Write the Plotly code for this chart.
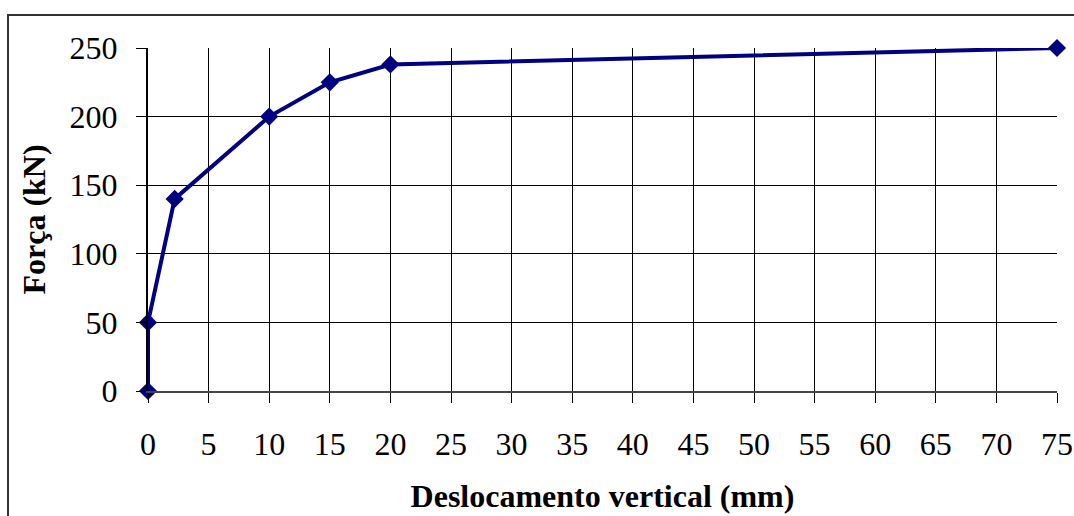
import plotly.graph_objects as go

deslocamento = [0, 0, 2.2, 10, 15, 20, 75]
forca = [0, 50, 140, 200, 225, 238, 250]

x_ticks = list(range(0, 80, 5))
y_ticks = [0, 50, 100, 150, 200, 250]

font_family = "Liberation Serif, Times New Roman, serif"

fig = go.Figure()
fig.add_trace(go.Scatter(
    x=deslocamento, y=forca,
    mode="lines+markers",
    line=dict(color="#000080", width=4),
    marker=dict(color="#000080", size=14, symbol="diamond"),
    showlegend=False,
    cliponaxis=False
))

fig.update_layout(
    width=1074, height=516,
    paper_bgcolor="white", plot_bgcolor="white",
    margin=dict(l=148, r=17, t=48, b=125),
    font=dict(family=font_family, size=32, color="black"),
    shapes=[dict(type="rect", xref="paper", yref="paper",
                 x0=-0.1540, x1=1.2, y0=-0.6, y1=1.0962,
                 line=dict(color="#333333", width=2), layer="below")],
)

fig.update_xaxes(
    range=[0, 75], tickvals=x_ticks, automargin=False,
    showgrid=True, gridcolor="black", gridwidth=1,
    showline=True, linecolor="#444444", linewidth=2,
    ticks="outside", ticklen=10, tickcolor="black", tickwidth=1,
    tickfont=dict(family=font_family, size=32),
    ticklabelstandoff=14,
    zeroline=False,
    title=dict(text="<b>Deslocamento vertical (mm)</b>",
               font=dict(family=font_family, size=32), standoff=23),
)
fig.update_yaxes(
    range=[0, 250], tickvals=y_ticks, automargin=False,
    showgrid=True, gridcolor="black", gridwidth=1,
    showline=True, linecolor="black", linewidth=2,
    ticks="outside", ticklen=10, tickcolor="black", tickwidth=1,
    tickfont=dict(family=font_family, size=32),
    ticklabelstandoff=12,
    zeroline=False,
    title=dict(text="<b>Força (kN)</b>",
               font=dict(family=font_family, size=32), standoff=14),
)

# drop the default page margin so the figure fills the window exactly
fig.write_html("out.html",
               config=dict(displayModeBar=False),
               post_script="document.body.style.margin='0';document.body.style.overflow='hidden';")
